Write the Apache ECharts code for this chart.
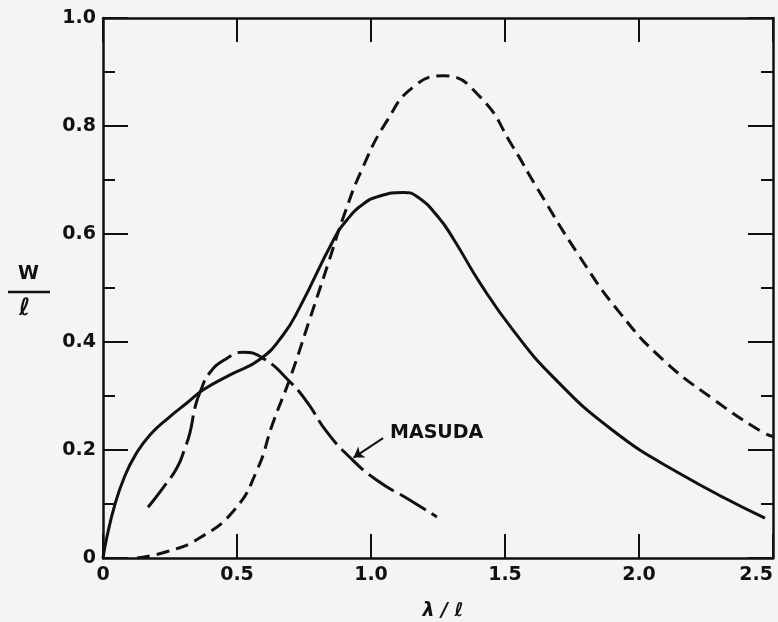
<!DOCTYPE html>
<html>
<head>
    <meta charset="utf-8">
    <title>W / l</title>
    <script src="https://cdn.jsdelivr.net/npm/echarts/dist/echarts.min.js"></script>
</head>
<body style="margin:0;background:#f4f4f2;">
<div id="main" style="width:778px;height:622px;"></div>
<script type="text/javascript">
    // solid curve
    var solidLambda = [0, 0.015, 0.045, 0.08, 0.12, 0.175, 0.25, 0.313, 0.373, 0.474, 0.586, 0.672, 0.735, 0.86, 0.91, 0.97, 1.03, 1.12, 1.17, 1.25, 1.31, 1.407, 1.53, 1.68, 1.90, 2.15, 2.47];
    var solidW      = [0, 0.04, 0.10, 0.15, 0.19, 0.228, 0.262, 0.287, 0.311, 0.339, 0.368, 0.413, 0.465, 0.589, 0.626, 0.655, 0.67, 0.677, 0.67, 0.632, 0.589, 0.509, 0.422, 0.335, 0.237, 0.157, 0.074];

    // short dashed curve
    var dashLambda = [0.127, 0.24, 0.36, 0.49, 0.575, 0.634, 0.698, 0.77, 0.84, 0.896, 0.97, 1.06, 1.157, 1.27, 1.407, 1.53, 1.62, 1.78, 1.93, 2.09, 2.28, 2.46, 2.5];
    var dashW      = [0.0, 0.012, 0.037, 0.089, 0.163, 0.25, 0.333, 0.44, 0.545, 0.63, 0.724, 0.81, 0.872, 0.893, 0.854, 0.761, 0.685, 0.557, 0.453, 0.367, 0.293, 0.233, 0.225];

    // Masuda (long dashes)
    var masudaLambda = [0.168, 0.224, 0.276, 0.306, 0.325, 0.343, 0.362, 0.40, 0.463, 0.52, 0.597, 0.698, 0.761, 0.836, 0.92, 1.022, 1.146, 1.246];
    var masudaW      = [0.094, 0.13, 0.167, 0.204, 0.233, 0.278, 0.307, 0.344, 0.37, 0.381, 0.37, 0.326, 0.289, 0.233, 0.187, 0.144, 0.107, 0.076];

    var xTicks = ['0', '0.5', '1.0', '1.5', '2.0', '2.5'];
    var yTicks = ['0', '0.2', '0.4', '0.6', '0.8', '1.0'];

    // label + arrow for Masuda
    var masudaLabelAt = [1.071, 0.231];
    var masudaArrow = [[1.045, 0.222], [0.935, 0.186]];

    function zip(a, b) {
        var out = [];
        for (var i = 0; i < a.length; i++) out.push([a[i], b[i]]);
        return out;
    }

    var ink = '#111';
    var font = 'DejaVu Sans';

    var myChart = echarts.init(document.getElementById('main'));

    function xAxisCfg(pos, labels) {
        return {
            type: 'value', position: pos, min: 0, max: 2.5, interval: 0.5,
            axisLine: { show: true, onZero: false, lineStyle: { color: ink, width: 2.5 } },
            axisTick: { show: true, inside: true, length: 24, lineStyle: { color: ink, width: 2 } },
            axisLabel: {
                show: labels, margin: 8, color: ink, fontSize: 19, fontFamily: font, fontWeight: 'bold',
                showMinLabel: true, showMaxLabel: true, alignMaxLabel: 'right',
                formatter: function (v) { return xTicks[Math.round(v / 0.5)]; }
            },
            splitLine: { show: false }
        };
    }

    function yAxisCfg(pos, labels) {
        return {
            type: 'value', position: pos, min: 0, max: 1, interval: 0.2,
            axisLine: { show: true, onZero: false, lineStyle: { color: ink, width: 2.5 } },
            axisTick: { show: true, inside: true, length: 25, lineStyle: { color: ink, width: 2 } },
            minorTick: { show: true, splitNumber: 2, length: 12, lineStyle: { color: ink, width: 2 } },
            axisLabel: {
                show: labels, margin: 7, color: ink, fontSize: 19, fontFamily: font, fontWeight: 'bold',
                showMinLabel: true, showMaxLabel: true,
                formatter: function (v) { return yTicks[Math.round(v / 0.2)]; }
            },
            splitLine: { show: false },
            minorSplitLine: { show: false }
        };
    }

    var xBottom = xAxisCfg('bottom', true);
    xBottom.name = 'λ / ℓ';
    xBottom.nameLocation = 'middle';
    xBottom.nameGap = 44;
    xBottom.nameTextStyle = { color: ink, fontSize: 19, fontFamily: font, fontWeight: 'bold', fontStyle: 'italic', padding: [0, 0, 0, 10] };

    var option = {
        backgroundColor: '#f4f4f2',
        animation: false,
        grid: { left: 103, right: 5, top: 18, bottom: 64, containLabel: false, outerBoundsMode: 'none' },
        xAxis: [xBottom, xAxisCfg('top', false)],
        yAxis: [yAxisCfg('left', true), yAxisCfg('right', false)],
        graphic: [
            { type: 'text', left: 18, top: 265, style: { text: 'W', fill: ink, font: 'bold 19px "DejaVu Sans"' } },
            { type: 'line', shape: { x1: 8, y1: 292, x2: 50, y2: 292 }, style: { stroke: ink, lineWidth: 2.5 } },
            { type: 'text', left: 19, top: 297, style: { text: 'ℓ', fill: ink, font: 'italic bold 24px "DejaVu Sans"' } }
        ],
        series: [
            {
                type: 'line', data: zip(solidLambda, solidW), smooth: 0.5,
                showSymbol: false, lineStyle: { color: ink, width: 3 }
            },
            {
                type: 'line', data: zip(dashLambda, dashW), smooth: 0.5,
                showSymbol: false, lineStyle: { color: ink, width: 3, type: [13, 7] }
            },
            {
                type: 'line', data: zip(masudaLambda, masudaW), smooth: 0.5,
                showSymbol: false, lineStyle: { color: ink, width: 3, type: [30, 7] },
                markLine: {
                    silent: true, symbol: ['none', 'arrow'], symbolSize: 10,
                    label: { show: false },
                    lineStyle: { color: ink, width: 2, type: 'solid' },
                    data: [[{ coord: masudaArrow[0] }, { coord: masudaArrow[1] }]]
                }
            },
            {
                type: 'scatter', data: [masudaLabelAt], symbolSize: 0, silent: true,
                itemStyle: { opacity: 1 },
                label: {
                    show: true, position: 'right', distance: 0, formatter: 'MASUDA',
                    color: ink, fontSize: 19, fontFamily: font, fontWeight: 'bold'
                }
            }
        ]
    };

    myChart.setOption(option);
</script>
</body>
</html>
